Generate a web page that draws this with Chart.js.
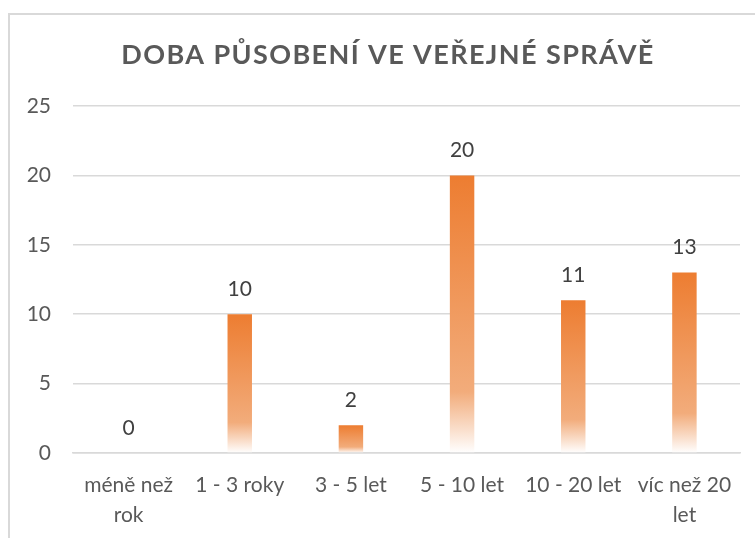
<!DOCTYPE html>
<html>
<head>
<meta charset="utf-8">
<script src="https://cdn.jsdelivr.net/npm/chart.js@4.4.1/dist/chart.umd.min.js"></script>
<style>
  html, body { margin: 0; padding: 0; background: #fff; overflow: hidden; }
  #wrap { position: absolute; left: 0; top: 0; width: 755px; height: 538px; }
  #frame {
    position: absolute; left: 8px; top: 13px; width: 800px; height: 600px;
    border: 2px solid #d9d9d9; pointer-events: none;
  }
</style>
</head>
<body>
<div id="wrap"><canvas id="chart"></canvas></div>
<div id="frame"></div>
<script>
// data
const categories = [["méně než", "rok"], "1 - 3 roky", "3 - 5 let", "5 - 10 let", "10 - 20 let", ["víc než 20", "let"]];
const counts = [0, 10, 2, 20, 11, 13];
const yTicks = [0, 5, 10, 15, 20, 25];
const chartTitle = "DOBA PŮSOBENÍ VE VEŘEJNÉ SPRÁVĚ";

// each bar gets its own gradient, orange at the top fading to white at the base
function barFill(context) {
  const chart = context.chart;
  const yScale = chart.scales.y;
  if (!chart.chartArea || !yScale || context.type !== "data") return "#ED7D31";
  const top = yScale.getPixelForValue(context.raw);
  const base = yScale.getPixelForValue(0);
  if (!isFinite(top) || !isFinite(base) || base - top < 1) return "#ED7D31";
  const g = chart.ctx.createLinearGradient(0, top, 0, base);
  g.addColorStop(0, "#ED7D31");
  g.addColorStop(0.78, "#F2AC7B");
  g.addColorStop(0.92, "#FAE0CE");
  g.addColorStop(1, "#FFFFFF");
  return g;
}

// spaced-out title, drawn over the top padding
const spacedTitle = {
  id: "spacedTitle",
  afterDraw(chart) {
    const ctx = chart.ctx;
    ctx.save();
    ctx.font = "bold 27px Lato";
    ctx.letterSpacing = "1.4px";
    ctx.fillStyle = "#595959";
    ctx.textAlign = "center";
    ctx.textBaseline = "alphabetic";
    ctx.fillText(chartTitle, 388, 64);
    ctx.restore();
  }
};

// value labels above the bars
const valueLabels = {
  id: "valueLabels",
  afterDatasetsDraw(chart) {
    const ctx = chart.ctx;
    const meta = chart.getDatasetMeta(0);
    ctx.save();
    ctx.font = "21px Lato";
    ctx.fillStyle = "#404040";
    ctx.textAlign = "center";
    ctx.textBaseline = "middle";
    meta.data.forEach((bar, i) => {
      ctx.fillText(String(counts[i]), bar.x, bar.y - 25);
    });
    ctx.restore();
  }
};

new Chart(document.getElementById("chart"), {
  type: "bar",
  data: {
    labels: categories,
    datasets: [{
      data: counts,
      backgroundColor: barFill,
      borderWidth: 0,
      barPercentage: 0.22,
      categoryPercentage: 1
    }]
  },
  options: {
    responsive: true,
    maintainAspectRatio: false,
    animation: false,
    layout: { padding: { left: 0, right: 15, top: 106, bottom: 0 } },
    plugins: {
      legend: { display: false },
      tooltip: { enabled: false },
      title: { display: false }
    },
    scales: {
      x: {
        grid: { display: false, drawTicks: false },
        border: { display: true, color: "#d9d9d9", width: 1.5 },
        ticks: {
          color: "#595959",
          font: { family: "Lato", size: 21, lineHeight: 1.4 },
          padding: 18,
          maxRotation: 0,
          autoSkip: false
        },
        afterFit(scale) { scale.height = 85; }
      },
      y: {
        min: 0,
        max: 25,
        afterBuildTicks(scale) { scale.ticks = yTicks.map(v => ({ value: v })); },
        grid: { color: "#d9d9d9", lineWidth: 1.5, drawTicks: false },
        border: { display: false },
        ticks: {
          color: "#595959",
          font: { family: "Lato", size: 21 },
          padding: 22
        },
        afterFit(scale) { scale.width = 73; }
      }
    }
  },
  plugins: [valueLabels, spacedTitle]
});
</script>
</body>
</html>
